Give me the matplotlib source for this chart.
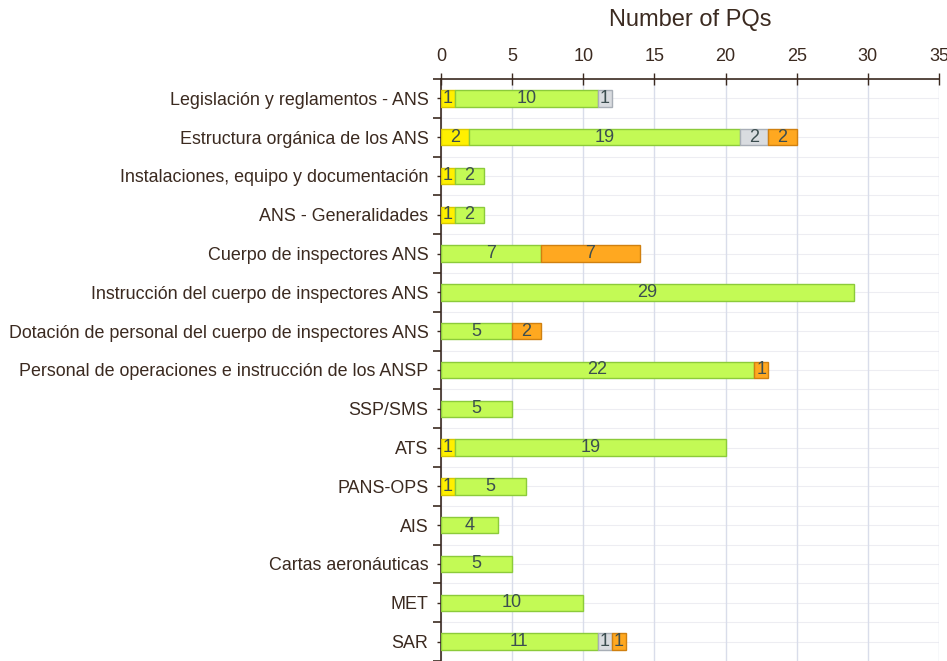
import matplotlib
matplotlib.use('Agg')
import matplotlib.pyplot as plt
import numpy as np

plt.rcParams['font.family'] = ['Liberation Sans', 'DejaVu Sans']

categories = [
    'Legislación y reglamentos - ANS',
    'Estructura orgánica de los ANS',
    'Instalaciones, equipo y documentación',
    'ANS - Generalidades',
    'Cuerpo de inspectores ANS',
    'Instrucción del cuerpo de inspectores ANS',
    'Dotación de personal del cuerpo de inspectores ANS',
    'Personal de operaciones e instrucción de los ANSP',
    'SSP/SMS',
    'ATS',
    'PANS-OPS',
    'AIS',
    'Cartas aeronáuticas',
    'MET',
    'SAR',
]
yellow = [1, 2, 1, 1, 0, 0, 0, 0, 0, 1, 1, 0, 0, 0, 0]
green = [10, 19, 2, 2, 7, 29, 5, 22, 5, 19, 5, 4, 5, 10, 11]
grey = [1, 2, 0, 0, 0, 0, 0, 0, 0, 0, 0, 0, 0, 0, 1]
orange = [0, 2, 0, 0, 7, 0, 2, 1, 0, 0, 0, 0, 0, 0, 1]

series = [
    (yellow, '#FFF000', '#D8C800'),
    (green, '#C3FA55', '#8CCB3A'),
    (grey, '#D9DCE0', '#A8AEB6'),
    (orange, '#FFA820', '#D08010'),
]

fig = plt.figure(figsize=(9.47, 6.61), dpi=100)
ax = fig.add_axes([441 / 947, 0, 498 / 947, (661 - 79) / 661])

y = np.arange(len(categories))
left = np.zeros(len(categories))
for vals, fc, ec in series:
    vals = np.array(vals, dtype=float)
    mask = vals > 0
    ax.barh(y[mask], vals[mask], left=left[mask], height=0.42, color=fc,
            edgecolor=ec, linewidth=1, zorder=3)
    for yi in y[mask]:
        ax.text(left[yi] + vals[yi] / 2, yi, str(int(vals[yi])), ha='center',
                va='center', fontsize=13, color='#3C4E50', zorder=4)
    left += vals

ax.set_xlim(0, 35)
ax.set_ylim(len(categories) - 0.5, -0.5)
ax.xaxis.tick_top()
ax.set_xticks(np.arange(0, 36, 5))
ax.tick_params(axis='x', direction='inout', length=8, width=1, colors='#3B2A20',
               labelsize=13, pad=6, labelcolor='#3B2A20')

ax.set_yticks(y)
ax.set_yticklabels(categories)
ax.set_yticks(np.arange(-0.5, len(categories)), minor=True)
ax.tick_params(axis='y', which='major', direction='out', length=3, width=1,
               colors='#3B2A20', labelsize=12.9, pad=6)
ax.tick_params(axis='y', which='minor', direction='out', length=6, width=1.2,
               colors='#3B2A20')

ax.grid(axis='x', color='#D9DDEA', linewidth=1, zorder=0)
for yy in np.arange(-0.5, len(categories), 0.5):
    ax.axhline(yy, color='#EDEDF2', linewidth=0.8, zorder=0)

for s in ['right', 'bottom']:
    ax.spines[s].set_visible(False)
ax.spines['top'].set_color('#3B2A20')
ax.spines['left'].set_color('#3B2A20')
ax.spines['top'].set_linewidth(1.2)
ax.spines['left'].set_linewidth(1.2)

fig.text(690 / 947, 1 - 20 / 661, 'Number of PQs', ha='center', va='center',
         fontsize=17, color='#3B2A20')

fig.savefig('out.png', dpi=100)
